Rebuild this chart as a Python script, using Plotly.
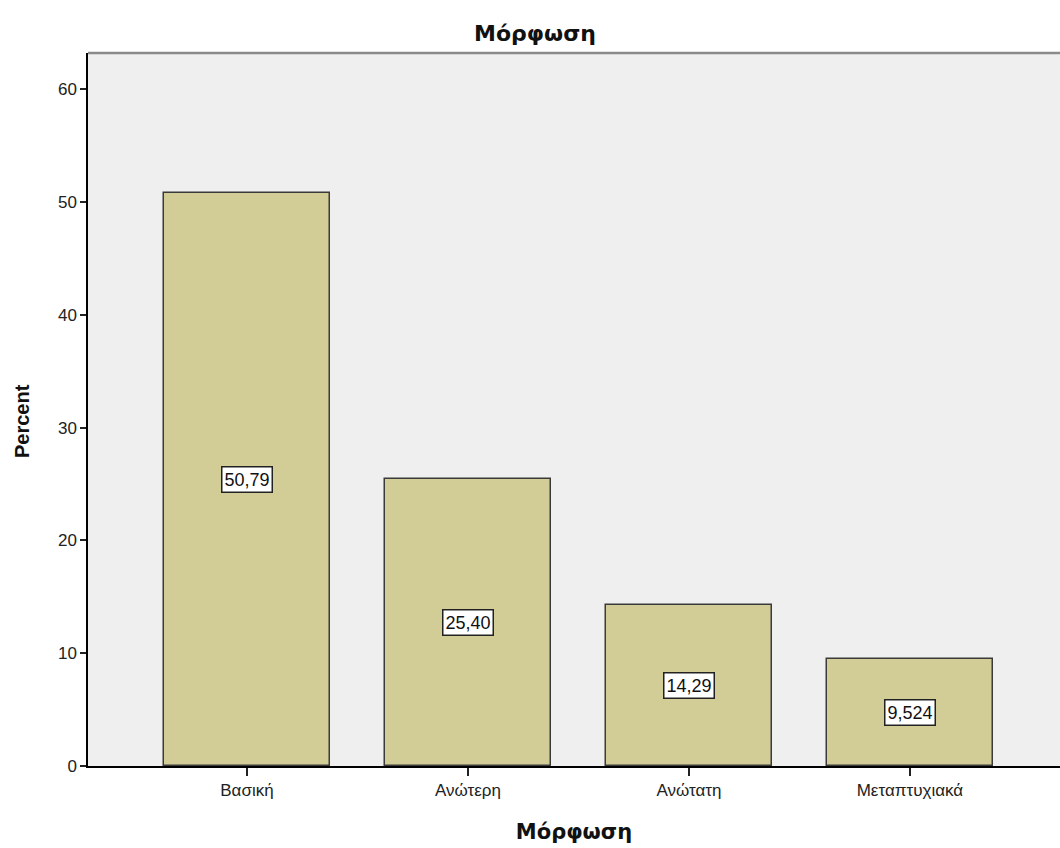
import plotly.graph_objects as go

categories = ["Βασική", "Ανώτερη", "Ανώτατη", "Μεταπτυχιακά"]
percent = [50.79, 25.40, 14.29, 9.524]
value_labels = ["50,79", "25,40", "14,29", "9,524"]
y_ticks = [0, 10, 20, 30, 40, 50, 60]

FONT = "Liberation Sans, Arial, sans-serif"
TFONT = "DejaVu Sans, Verdana, sans-serif"

fig = go.Figure()
fig.add_trace(go.Bar(
    x=categories, y=percent, width=0.751,
    marker=dict(color="#D2CD96", line=dict(color="#3a3a3a", width=1.5)),
    hoverinfo="skip",
))

for c, v, lab in zip(categories, percent, value_labels):
    fig.add_annotation(x=c, y=v / 2, text=lab, showarrow=False,
                       bgcolor="white", bordercolor="#222", borderwidth=1.5,
                       borderpad=2,
                       font=dict(family=FONT, size=18, color="#111"))

fig.add_shape(type="line", xref="paper", yref="paper", x0=0, x1=1, y0=1, y1=1,
              line=dict(color="#8a8a8a", width=2.5))

fig.update_layout(
    width=1060, height=848,
    margin=dict(l=88, r=0, t=53, b=82),
    paper_bgcolor="white", plot_bgcolor="#EFEFEF",
    showlegend=False,
    bargap=0,
    title=dict(text="<b>Μόρφωση</b>", x=535 / 1060, xanchor="center",
               y=1 - 33 / 848, yanchor="middle",
               font=dict(family=TFONT, size=22, color="#111")),
    xaxis=dict(
        range=[-0.719, 3.679], showgrid=False, zeroline=False,
        showline=True, linecolor="black", linewidth=1.5,
        ticks="outside", ticklen=8, tickwidth=1.5, tickcolor="#222",
        tickfont=dict(family=FONT, size=17, color="#222"),
        title=dict(text="<b>Μόρφωση</b>", standoff=25,
                   font=dict(family=TFONT, size=21, color="#111")),
    ),
    yaxis=dict(
        range=[0, 63.2], tickvals=y_ticks, showgrid=False, zeroline=False,
        showline=True, linecolor="black", linewidth=1.5,
        ticks="outside", ticklen=6, tickwidth=1.5, tickcolor="#222",
        tickfont=dict(family=FONT, size=17, color="#222"),
    ),
)

fig.add_annotation(xref="paper", yref="paper", x=(22 - 88) / 972, y=(766 - 421) / 713,
                   text="<b>Percent</b>", textangle=-90, showarrow=False,
                   xanchor="center", yanchor="middle",
                   font=dict(family=FONT, size=20, color="#111"))

fig.write_html("out.html", config={"displayModeBar": False},
               post_script="document.body.style.margin='0';document.body.style.overflow='hidden';")
